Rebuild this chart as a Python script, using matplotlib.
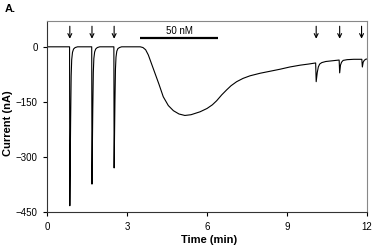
import matplotlib.pyplot as plt
plt.switch_backend('agg')

plt.rcParams['font.family'] = ['Liberation Sans Narrow', 'Liberation Sans', 'DejaVu Sans']

time = [0, 0.85,
        0.86, 0.89, 0.91, 0.93, 0.96, 1.0, 1.06, 1.15, 1.68,
        1.69, 1.72, 1.74, 1.76, 1.79, 1.83, 1.89, 1.98, 2.51,
        2.52, 2.55, 2.57, 2.59, 2.62, 2.66, 2.72, 2.8, 3.5,
        3.6, 3.7, 3.8, 3.9, 4.0, 4.2, 4.36, 4.55, 4.74, 4.95, 5.17, 5.4,
        5.74, 6.0, 6.2, 6.36, 6.55, 6.74, 6.9, 7.11, 7.35, 7.61, 7.99,
        8.4, 8.74, 9.1, 9.49, 9.8, 10.07,
        10.09, 10.13, 10.17, 10.22, 10.3, 10.45, 10.7, 10.95,
        10.97, 11.0, 11.04, 11.1, 11.25, 11.5, 11.8,
        11.82, 11.85, 11.89, 11.94, 12.0]
current = [0, 0,
           -433, -200, -80, -35, -15, -6, -2, 0, 0,
           -374, -170, -70, -32, -14, -6, -2, 0, 0,
           -330, -150, -60, -28, -12, -5, -2, 0, 0,
           -2, -8, -22, -42, -62, -102, -136, -160, -174, -183, -187, -185,
           -177, -168, -158, -147, -131, -117, -106, -95, -86, -79, -72,
           -66, -61, -55, -50, -47, -44,
           -95, -70, -55, -47, -43, -40, -38, -36,
           -71, -50, -42, -37, -35, -34, -34,
           -55, -42, -37, -34, -33]

arrow_times = [0.86, 1.69, 2.52, 10.09, 10.97, 11.79]
bar_start, bar_end = 3.49, 6.41
bar_label = "50 nM"

xticks = [0, 3, 6, 9, 12]
yticks = [0, -150, -300, -450]

fig = plt.figure(figsize=(3.72, 2.5), dpi=100)
ax = fig.add_axes([0.126, 0.152, 0.861, 0.765])

ax.plot(time, current, color='k', lw=0.8)

# application markers
for t in arrow_times:
    ax.annotate('', xy=(t, 22), xytext=(t, 56),
                arrowprops=dict(arrowstyle='->', lw=0.8, color='k',
                                shrinkA=0, shrinkB=0, mutation_scale=7))

ax.plot([bar_start, bar_end], [24, 24], color='k', lw=1.6, solid_capstyle='butt')
ax.text((bar_start + bar_end) / 2, 29, bar_label, ha='center', va='bottom', fontsize=7)

ax.set_xlim(0, 12)
ax.set_ylim(-450, 71)
ax.set_xticks(xticks)
ax.set_yticks(yticks)
ax.tick_params(direction='out', length=3, width=0.8, labelsize=7)
ax.tick_params(axis='x', pad=4.5)
ax.tick_params(axis='y', pad=3.5)

for side in ['top', 'right']:
    ax.spines[side].set_color('#888888')
for side in ['left', 'bottom']:
    ax.spines[side].set_color('#333333')
for s in ax.spines.values():
    s.set_linewidth(0.8)

ax.set_xlabel("Time (min)", fontsize=8, fontweight='bold')
ax.set_ylabel("Current (nA)", fontsize=8, fontweight='bold')
ax.xaxis.set_label_coords(0.505, -0.12)
ax.yaxis.set_label_coords(-0.106, 0.465)

fig.text(0.013, 0.965, "A.", fontsize=8, fontweight='bold', va='center')

plt.savefig('out.png', dpi=100)
plt.close()
